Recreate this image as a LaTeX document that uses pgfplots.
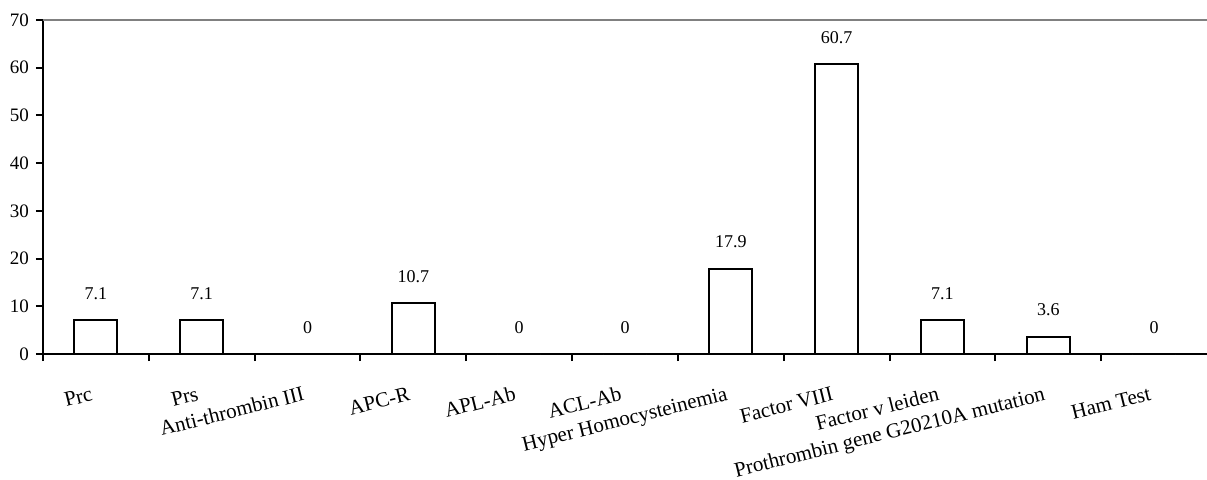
\documentclass[border=0pt]{standalone}
\usepackage{fontspec}
\setmainfont{Liberation Serif}
\usepackage{pgfplots}
\pgfplotsset{compat=1.18}
\begin{document}
\begin{tikzpicture}
\begin{axis}[
  scale only axis, width=582pt, height=167pt,
  xmin=-0.5, xmax=10.5, ymin=0, ymax=70,
  clip=false,
  /pgf/number format/assume math mode=true,
  ytick={0,10,...,70},
  xtick={0,...,10},
  xticklabels={Prc, Prs, Anti-thrombin III, APC-R, APL-Ab, ACL-Ab, Hyper Homocysteinemia, Factor VIII, Factor v leiden, Prothrombin gene G20210A mutation, Ham Test},
  minor xtick={-0.5,0.5,...,9.5},
  axis x line*=bottom, axis y line*=left,
  axis line style={-, line width=1pt, black},
  tick align=outside,
  major tick length=3.5pt, minor tick length=3.5pt,
  major x tick style={draw=none},
  minor x tick style={line width=1pt, black},
  ytick style={line width=1pt, black},
  yticklabel style={font=\fontsize{9.5}{10}\selectfont},
  xticklabel style={font=\fontsize{10.5}{12}\selectfont, yshift=-19.5pt, xshift=-1pt, rotate=14, anchor=base east, inner sep=0pt},
]
\addplot[ybar, bar width=21.5pt, fill=white, draw=black, line width=1pt,
  nodes near coords,
  every node near coord/.append style={font=\fontsize{9}{10}\selectfont, yshift=6.5pt}]
  coordinates {
  (0,7.1) (1,7.1) (2,0) (3,10.7) (4,0) (5,0)
  (6,17.9) (7,60.7) (8,7.1) (9,3.6) (10,0)
  };
\draw[black!50, line width=1pt] (rel axis cs:0,1) -- (rel axis cs:1,1);
\end{axis}
\pgfresetboundingbox
\useasboundingbox ([xshift=-21.5pt,yshift=-62.5pt]current axis.south west) rectangle ([yshift=10pt]current axis.north east);
\end{tikzpicture}
\end{document}
